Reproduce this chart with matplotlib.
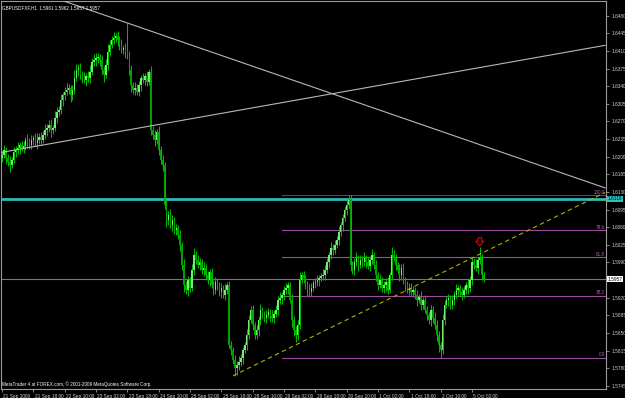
import numpy as np
import matplotlib
matplotlib.use('Agg')
import matplotlib.pyplot as plt
import matplotlib.transforms as mtransforms

# GBPUSD H1 closes (bar 0 = 21 Sep 2009 02:00)
closes = [
    1.6203, 1.6213, 1.6197, 1.6189, 1.6184, 1.6193, 1.6209, 1.6213, 1.6217, 1.6223,
    1.6217, 1.6221, 1.6233, 1.6229, 1.6223, 1.6233, 1.6237, 1.6227, 1.6233, 1.6239,
    1.6233, 1.6243, 1.6253, 1.6257, 1.6263, 1.6253, 1.6257, 1.6277, 1.6289, 1.6293,
    1.6312, 1.6322, 1.6328, 1.6332, 1.6336, 1.6322, 1.6332, 1.6356, 1.6372, 1.6376,
    1.6362, 1.6356, 1.6352, 1.6360, 1.6356, 1.6368, 1.6388, 1.6392, 1.6396, 1.6398,
    1.6392, 1.6372, 1.6362, 1.6382, 1.6408, 1.6422, 1.6432, 1.6436, 1.6440, 1.6432,
    1.6422, 1.6412, 1.6416, 1.6408, 1.6402, 1.6372, 1.6342, 1.6332, 1.6336, 1.6328,
    1.6342, 1.6356, 1.6352, 1.6360, 1.6348, 1.6368, 1.6253, 1.6243, 1.6233, 1.6249,
    1.6213, 1.6193, 1.6184, 1.6104, 1.6074, 1.6084, 1.6064, 1.6074, 1.6054, 1.6058,
    1.6045, 1.6025, 1.5985, 1.5945, 1.5935, 1.5955, 1.5939, 1.5975, 1.6005, 1.5995,
    1.5985, 1.5991, 1.5975, 1.5979, 1.5965, 1.5955, 1.5971, 1.5945, 1.5935, 1.5951,
    1.5945, 1.5931, 1.5939, 1.5925, 1.5935, 1.5945, 1.5826, 1.5816, 1.5796, 1.5781,
    1.5786, 1.5792, 1.5800, 1.5816, 1.5826, 1.5846, 1.5876, 1.5896, 1.5866, 1.5846,
    1.5856, 1.5876, 1.5896, 1.5886, 1.5880, 1.5886, 1.5892, 1.5884, 1.5880, 1.5888,
    1.5896, 1.5916, 1.5919, 1.5925, 1.5935, 1.5939, 1.5945, 1.5916, 1.5876, 1.5856,
    1.5846, 1.5866, 1.5955, 1.5965, 1.5959, 1.5945, 1.5935, 1.5931, 1.5939, 1.5949,
    1.5951, 1.5955, 1.5959, 1.5963, 1.5965, 1.5975, 1.5991, 1.6005, 1.6019, 1.6015,
    1.6025, 1.6035, 1.6051, 1.6064, 1.6078, 1.6094, 1.6104, 1.6114, 1.5985, 1.5975,
    1.5991, 1.5999, 1.5985, 1.5995, 1.5991, 1.5999, 1.5991, 1.5983, 1.5995, 1.6005,
    1.5985, 1.5965, 1.5945, 1.5955, 1.5939, 1.5945, 1.5951, 1.5935, 1.5965, 1.6005,
    1.5999, 1.5985, 1.5975, 1.5965, 1.5979, 1.5955, 1.5945, 1.5935, 1.5939, 1.5931,
    1.5935, 1.5925, 1.5916, 1.5921, 1.5906, 1.5916, 1.5896, 1.5886, 1.5876, 1.5896,
    1.5880, 1.5866, 1.5846, 1.5826, 1.5816, 1.5876, 1.5906, 1.5916, 1.5919, 1.5906,
    1.5916, 1.5925, 1.5935, 1.5939, 1.5931, 1.5925, 1.5935, 1.5945, 1.5939, 1.5955,
    1.5991, 1.5985, 1.5979, 1.5995, 1.5999, 1.5965, 1.5957,
]
first_open = 1.6198

# wick lengths above / below the body, in pips
wick_up = [
    8, 11, 6, 9, 12, 7, 10, 8, 13, 6, 9, 11, 7, 12, 8, 10, 6, 9, 13, 8,
    10, 7, 12, 8, 9, 11, 6, 14, 9, 8, 12, 7, 10, 14, 8, 6, 11, 16, 12, 7,
    9, 8, 12, 6, 10, 14, 8, 11, 9, 7, 6, 10, 8, 12, 15, 9, 7, 12, 6, 10,
    8, 12, 6, 10, 57, 8, 10, 6, 12, 8, 9, 7, 11, 6, 10, 6, 12, 8, 9, 6,
    12, 8, 10, 6, 9, 8, 12, 10, 6, 8, 7, 10, 6, 12, 8, 9, 7, 11, 14, 8,
    10, 8, 6, 12, 7, 9, 6, 8, 11, 10, 8, 6, 10, 7, 12, 6, 9, 8, 6, 10,
    8, 12, 9, 7, 6, 11, 10, 8, 9, 6, 10, 8, 12, 6, 7, 10, 8, 6, 12, 8,
    9, 7, 12, 6, 8, 10, 7, 6, 12, 8, 8, 10, 16, 7, 9, 6, 8, 12, 10, 6,
    8, 10, 6, 7, 12, 9, 8, 6, 11, 8, 10, 8, 12, 6, 9, 8, 12, 10, 9, 7,
    7, 12, 6, 10, 8, 11, 6, 9, 8, 12, 6, 10, 7, 12, 6, 9, 8, 11, 6, 16,
    10, 8, 6, 12, 7, 9, 6, 8, 11, 10, 8, 6, 10, 7, 12, 6, 9, 8, 6, 10,
    8, 12, 9, 7, 6, 11, 10, 8, 9, 6, 10, 8, 12, 6, 7, 10, 8, 6, 12, 8,
    10, 8, 12, 6, 22, 8, 6,
]
wick_dn = [
    9, 6, 12, 8, 14, 7, 6, 10, 8, 12, 6, 9, 8, 12, 7, 8, 10, 6, 12, 8,
    10, 6, 8, 12, 9, 14, 8, 6, 10, 8, 8, 12, 9, 6, 8, 14, 10, 8, 6, 12,
    8, 10, 6, 12, 8, 9, 6, 8, 12, 10, 12, 8, 14, 6, 10, 8, 6, 9, 8, 12,
    10, 6, 8, 12, 8, 9, 14, 8, 10, 6, 8, 12, 6, 10, 8, 6, 10, 8, 12, 8,
    10, 8, 12, 8, 14, 10, 6, 12, 8, 10, 8, 12, 10, 14, 8, 12, 8, 6, 10, 8,
    6, 10, 8, 12, 10, 8, 12, 6, 10, 8, 10, 8, 12, 6, 10, 8, 6, 10, 8, 16,
    14, 10, 8, 12, 6, 10, 8, 6, 10, 8, 8, 12, 10, 6, 8, 10, 6, 12, 8, 10,
    6, 10, 8, 12, 10, 8, 12, 6, 14, 12, 14, 10, 8, 6, 10, 8, 12, 10, 8, 6,
    10, 8, 12, 6, 8, 10, 6, 12, 8, 10, 8, 6, 10, 8, 12, 6, 10, 8, 12, 8,
    10, 8, 12, 6, 10, 8, 12, 6, 10, 8, 8, 12, 10, 6, 8, 10, 12, 8, 6, 10,
    6, 10, 8, 12, 10, 8, 12, 6, 10, 8, 10, 8, 12, 6, 10, 8, 6, 10, 8, 12,
    10, 8, 12, 14, 15, 8, 10, 6, 12, 8, 8, 10, 6, 12, 8, 10, 6, 8, 12, 8,
    10, 8, 6, 12, 8, 10, 6,
]

time_labels = ['21 Sep 2009', '21 Sep 18:00', '22 Sep 10:00', '23 Sep 02:00',
               '23 Sep 18:00', '24 Sep 10:00', '25 Sep 02:00', '25 Sep 18:00',
               '28 Sep 10:00', '29 Sep 02:00', '29 Sep 18:00', '30 Sep 10:00',
               '1 Oct 02:00', '1 Oct 18:00', '2 Oct 10:00', '5 Oct 02:00']
bars_per_label = 16

price_ticks = [1.6480, 1.6445, 1.6410, 1.6375, 1.6340, 1.6305, 1.6270, 1.6235,
               1.6200, 1.6165, 1.6130, 1.6095, 1.6060, 1.6025, 1.5990,
               1.5920, 1.5885, 1.5850, 1.5815, 1.5780, 1.5745]

# objects drawn on the chart: (bar, price) anchors
trend_down = [(30, 1.6511), (308, 1.6138)]
trend_up = [(-1, 1.6208), (308, 1.6421)]
trend_dash = [(118, 1.5765), (308, 1.6129)]
cyan_level = 1.6116
bid = 1.5957
fib_start = 143
fib_high = 1.6123
fib_low = 1.5801
fib_levels = [0.0, 38.2, 61.8, 78.6, 100.0]
arrow_bar, arrow_price = 244, 1.6031

title = 'GBPUSDFXF,H1  1.5961 1.5962 1.5957 1.5957'
copyright_txt = 'MetaTrader 4 at FOREX.com, \u00a9 2001-2009 MetaQuotes Software Corp.'

W, H = 625, 398
plt.rcParams['font.family'] = ['Liberation Sans', 'DejaVu Sans']
fig = plt.figure(figsize=(W / 100, H / 100), dpi=100, facecolor='black')
ax = fig.add_axes([1 / W, 1 - 389 / H, 605 / W, 388 / H])
ax.set_facecolor('black')
ax.set_xlim(-0.51, 308.47)
ax.set_ylim(1.57388, 1.65090)

c = np.array(closes)
o = np.array([first_open] + closes[:-1])
hi = np.maximum(o, c) + np.array(wick_up) * 0.0001
lo = np.minimum(o, c) - np.array(wick_dn) * 0.0001
x = np.arange(len(c))
up = c >= o

ax.vlines(x, lo, hi, color='#00b800', lw=0.75, zorder=3)
ax.bar(x[up], np.maximum(c - o, 0.00008)[up], bottom=o[up], width=0.75,
       color='#70ee70', linewidth=0, zorder=4)
ax.bar(x[~up], (o - c)[~up], bottom=c[~up], width=0.75,
       color='#00a000', linewidth=0, zorder=4)

def ray(pts, **kw):
    (x0, y0), (x1, y1) = pts
    ax.plot([x0, x1], [y0, y1], **kw)

ray(trend_down, color='#b8b8b8', lw=0.8, zorder=5)
ray(trend_up, color='#b8b8b8', lw=0.8, zorder=5)
ray(trend_dash, color='#b0b000', lw=0.8, ls=(0, (4, 3)), zorder=5)

ax.axhline(cyan_level, color='#30b8b8', lw=2.0, zorder=2)
ax.axhline(bid, color='#707888', lw=0.8, zorder=2)

for lev in fib_levels:
    p = fib_low + (fib_high - fib_low) * lev / 100
    col = '#6a3a6a' if lev == 100.0 else '#9c4c9c'
    ax.plot([fib_start, 308.47], [p, p], color=col, lw=0.8, zorder=2)
    ax.text(0.9985, p + 0.0001, f'{lev:.1f}', transform=ax.get_yaxis_transform(),
            ha='right', va='bottom', fontsize=3.3, color='#b060b0', zorder=6)

# MT4 sell arrow
arrow_verts = [(-0.45, 1), (0.45, 1), (0.45, 0.15), (1, 0.15), (0, -1),
               (-1, 0.15), (-0.45, 0.15), (-0.45, 1)]
ax.scatter([arrow_bar], [arrow_price], marker=arrow_verts, s=34,
           facecolors='none', edgecolors='#c00000', linewidths=1.0, zorder=7)

# axes like the MT4 frame
for s in ax.spines.values():
    s.set_color('#9a9a9a')
    s.set_linewidth(0.8)
ax.yaxis.tick_right()
ax.set_yticks(price_ticks)
ax.set_yticklabels([f'{p:.4f}' for p in price_ticks])
ax.set_xticks(np.arange(len(time_labels)) * bars_per_label)
ax.set_xticklabels(time_labels)
ax.tick_params(axis='both', colors='#9a9a9a', labelcolor='#d0d0d0', length=2.5,
               width=0.6, labelsize=3.4, pad=1.2)
ax.xaxis.set_tick_params(pad=0.8)
offset = mtransforms.ScaledTranslation(1.5 / 100, 0, fig.dpi_scale_trans)
for t in ax.get_xticklabels():
    t.set_ha('left')
    t.set_transform(t.get_transform() + offset)

ytr = ax.get_yaxis_transform()
ax.text(1.003, cyan_level, f'{cyan_level:.4f}', transform=ytr, ha='left', va='center',
        fontsize=3.4, color='black', clip_on=False, zorder=8,
        bbox=dict(boxstyle='square,pad=0.15', fc='#30c0c0', ec='none'))
ax.text(1.003, bid, f'{bid:.4f}', transform=ytr, ha='left', va='center',
        fontsize=3.4, color='black', clip_on=False, zorder=8,
        bbox=dict(boxstyle='square,pad=0.15', fc='white', ec='none'))

fig.text(2 / W, 1 - 8 / H, title, fontsize=3.3, color='white', va='center')
fig.text(2 / W, 1 - 384 / H, copyright_txt, fontsize=3.3, color='white', va='center')

fig.savefig('out.png', dpi=100, facecolor='black')
